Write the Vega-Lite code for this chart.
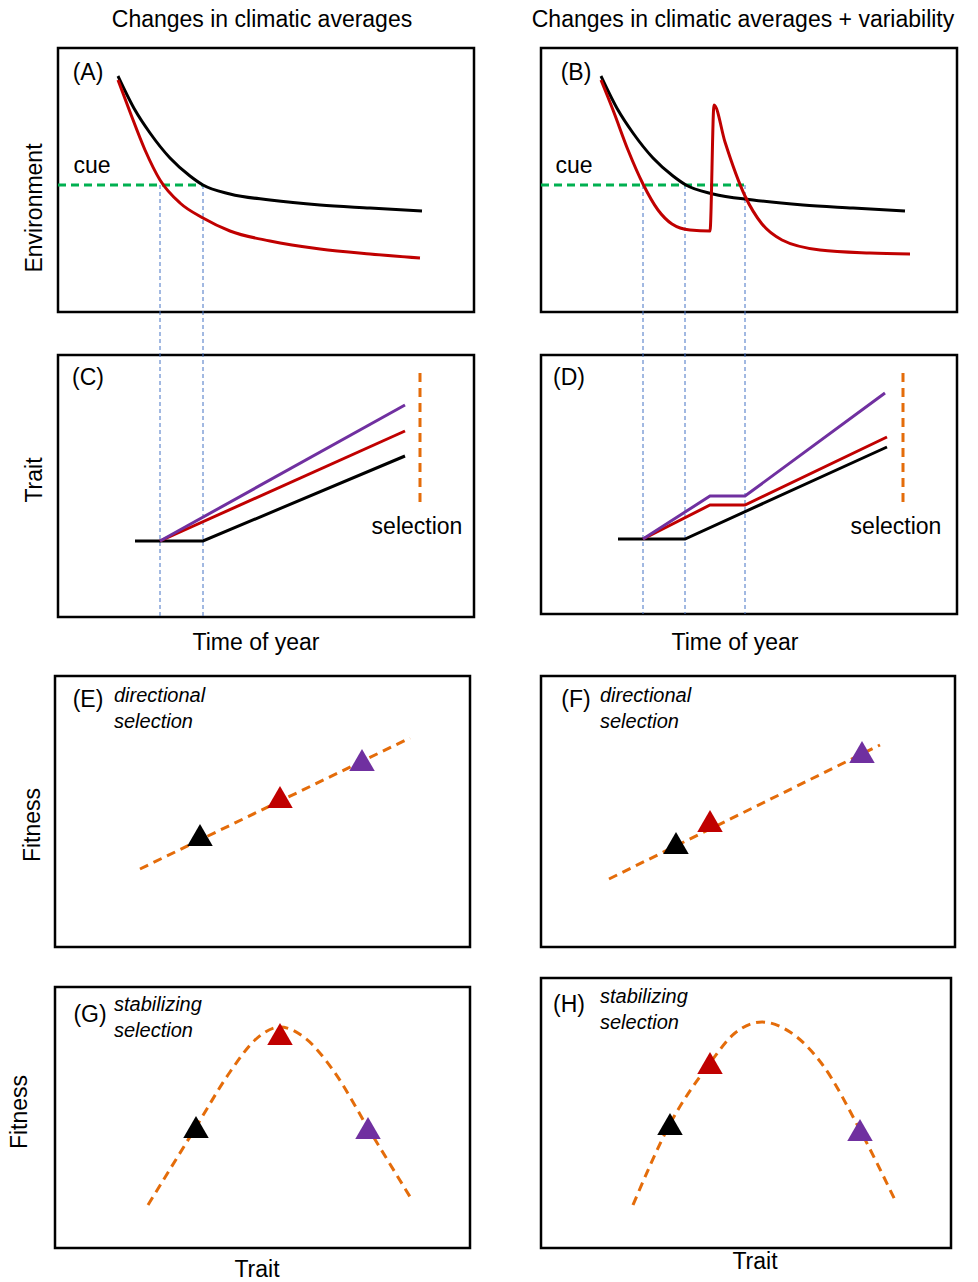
{
  "$schema": "https://vega.github.io/schema/vega-lite/v6.json",
  "width": 978,
  "height": 1282,
  "autosize": {"type": "fit", "contains": "padding"},
  "padding": 0,
  "background": "white",
  "config": {"view": {"stroke": null}, "font": "Liberation Sans"},
  "datasets": {
    "boxes": [
      {"p": "A", "x": 58, "x2": 474, "y": 48, "y2": 312},
      {"p": "B", "x": 541, "x2": 957, "y": 48, "y2": 312},
      {"p": "C", "x": 58, "x2": 474, "y": 355, "y2": 617},
      {"p": "D", "x": 541, "x2": 957, "y": 355, "y2": 614},
      {"p": "E", "x": 55, "x2": 470, "y": 676, "y2": 947},
      {"p": "F", "x": 541, "x2": 955, "y": 676, "y2": 947},
      {"p": "G", "x": 55, "x2": 470, "y": 987, "y2": 1248},
      {"p": "H", "x": 541, "x2": 951, "y": 978, "y2": 1248}
    ],
    "lines": [
      {"s": "A-env", "c": "black", "i": 0, "x": 118, "y": 76},
      {"s": "A-env", "c": "black", "i": 1, "x": 135, "y": 110},
      {"s": "A-env", "c": "black", "i": 2, "x": 150, "y": 133},
      {"s": "A-env", "c": "black", "i": 3, "x": 170, "y": 158},
      {"s": "A-env", "c": "black", "i": 4, "x": 190, "y": 176},
      {"s": "A-env", "c": "black", "i": 5, "x": 203, "y": 185},
      {"s": "A-env", "c": "black", "i": 6, "x": 230, "y": 194},
      {"s": "A-env", "c": "black", "i": 7, "x": 270, "y": 200},
      {"s": "A-env", "c": "black", "i": 8, "x": 320, "y": 205},
      {"s": "A-env", "c": "black", "i": 9, "x": 370, "y": 208},
      {"s": "A-env", "c": "black", "i": 10, "x": 422, "y": 211},
      {"s": "A-red", "c": "red", "i": 0, "x": 118, "y": 80},
      {"s": "A-red", "c": "red", "i": 1, "x": 130, "y": 112},
      {"s": "A-red", "c": "red", "i": 2, "x": 145, "y": 150},
      {"s": "A-red", "c": "red", "i": 3, "x": 160, "y": 180},
      {"s": "A-red", "c": "red", "i": 4, "x": 180, "y": 203},
      {"s": "A-red", "c": "red", "i": 5, "x": 203, "y": 218},
      {"s": "A-red", "c": "red", "i": 6, "x": 230, "y": 231},
      {"s": "A-red", "c": "red", "i": 7, "x": 270, "y": 241},
      {"s": "A-red", "c": "red", "i": 8, "x": 320, "y": 249},
      {"s": "A-red", "c": "red", "i": 9, "x": 370, "y": 254},
      {"s": "A-red", "c": "red", "i": 10, "x": 420, "y": 258},
      {"s": "B-env", "c": "black", "i": 0, "x": 601, "y": 76},
      {"s": "B-env", "c": "black", "i": 1, "x": 618, "y": 110},
      {"s": "B-env", "c": "black", "i": 2, "x": 633, "y": 133},
      {"s": "B-env", "c": "black", "i": 3, "x": 653, "y": 158},
      {"s": "B-env", "c": "black", "i": 4, "x": 673, "y": 176},
      {"s": "B-env", "c": "black", "i": 5, "x": 686, "y": 185},
      {"s": "B-env", "c": "black", "i": 6, "x": 713, "y": 194},
      {"s": "B-env", "c": "black", "i": 7, "x": 753, "y": 200},
      {"s": "B-env", "c": "black", "i": 8, "x": 803, "y": 205},
      {"s": "B-env", "c": "black", "i": 9, "x": 853, "y": 208},
      {"s": "B-env", "c": "black", "i": 10, "x": 905, "y": 211},
      {"s": "B-red", "c": "red", "i": 0, "x": 601, "y": 80},
      {"s": "B-red", "c": "red", "i": 1, "x": 613, "y": 110},
      {"s": "B-red", "c": "red", "i": 2, "x": 628, "y": 150},
      {"s": "B-red", "c": "red", "i": 3, "x": 643, "y": 184},
      {"s": "B-red", "c": "red", "i": 4, "x": 658, "y": 210},
      {"s": "B-red", "c": "red", "i": 5, "x": 672, "y": 224},
      {"s": "B-red", "c": "red", "i": 6, "x": 690, "y": 230},
      {"s": "B-red", "c": "red", "i": 7, "x": 710, "y": 231},
      {"s": "B-red", "c": "red", "i": 8, "x": 714, "y": 105},
      {"s": "B-red", "c": "red", "i": 9, "x": 725, "y": 142},
      {"s": "B-red", "c": "red", "i": 10, "x": 745, "y": 196},
      {"s": "B-red", "c": "red", "i": 11, "x": 762, "y": 224},
      {"s": "B-red", "c": "red", "i": 12, "x": 782, "y": 240},
      {"s": "B-red", "c": "red", "i": 13, "x": 820, "y": 250},
      {"s": "B-red", "c": "red", "i": 14, "x": 870, "y": 253},
      {"s": "B-red", "c": "red", "i": 15, "x": 910, "y": 254},
      {"s": "C-black", "c": "black", "i": 0, "x": 135, "y": 541},
      {"s": "C-black", "c": "black", "i": 1, "x": 203, "y": 541},
      {"s": "C-black", "c": "black", "i": 2, "x": 405, "y": 456},
      {"s": "C-red", "c": "red", "i": 0, "x": 160, "y": 541},
      {"s": "C-red", "c": "red", "i": 1, "x": 405, "y": 431},
      {"s": "C-purple", "c": "purple", "i": 0, "x": 160, "y": 541},
      {"s": "C-purple", "c": "purple", "i": 1, "x": 405, "y": 405},
      {"s": "D-black", "c": "black", "i": 0, "x": 618, "y": 539},
      {"s": "D-black", "c": "black", "i": 1, "x": 685, "y": 539},
      {"s": "D-black", "c": "black", "i": 2, "x": 887, "y": 447},
      {"s": "D-red", "c": "red", "i": 0, "x": 643, "y": 539},
      {"s": "D-red", "c": "red", "i": 1, "x": 710, "y": 505},
      {"s": "D-red", "c": "red", "i": 2, "x": 745, "y": 505},
      {"s": "D-red", "c": "red", "i": 3, "x": 887, "y": 437},
      {"s": "D-purple", "c": "purple", "i": 0, "x": 643, "y": 539},
      {"s": "D-purple", "c": "purple", "i": 1, "x": 710, "y": 496},
      {"s": "D-purple", "c": "purple", "i": 2, "x": 745, "y": 496},
      {"s": "D-purple", "c": "purple", "i": 3, "x": 885, "y": 393}
    ],
    "cue": [
      {"s": "A", "i": 0, "x": 58, "y": 185},
      {"s": "A", "i": 1, "x": 203, "y": 185},
      {"s": "B", "i": 0, "x": 541, "y": 185},
      {"s": "B", "i": 1, "x": 745, "y": 185}
    ],
    "guides": [
      {"s": "1", "i": 0, "x": 160, "y": 185},
      {"s": "1", "i": 1, "x": 160, "y": 617},
      {"s": "2", "i": 0, "x": 203, "y": 185},
      {"s": "2", "i": 1, "x": 203, "y": 617},
      {"s": "3", "i": 0, "x": 643, "y": 185},
      {"s": "3", "i": 1, "x": 643, "y": 614},
      {"s": "4", "i": 0, "x": 685, "y": 185},
      {"s": "4", "i": 1, "x": 685, "y": 614},
      {"s": "5", "i": 0, "x": 745, "y": 185},
      {"s": "5", "i": 1, "x": 745, "y": 614}
    ],
    "selection": [
      {"s": "C", "i": 0, "x": 420, "y": 373},
      {"s": "C", "i": 1, "x": 420, "y": 505},
      {"s": "D", "i": 0, "x": 903, "y": 373},
      {"s": "D", "i": 1, "x": 903, "y": 508},
      {"s": "E", "i": 0, "x": 140, "y": 869},
      {"s": "E", "i": 1, "x": 410, "y": 738},
      {"s": "F", "i": 0, "x": 609, "y": 879},
      {"s": "F", "i": 1, "x": 880, "y": 745},
      {"s": "G", "i": 0, "x": 148, "y": 1205},
      {"s": "G", "i": 1, "x": 196, "y": 1127},
      {"s": "G", "i": 2, "x": 230, "y": 1072},
      {"s": "G", "i": 3, "x": 255, "y": 1040},
      {"s": "G", "i": 4, "x": 280, "y": 1027},
      {"s": "G", "i": 5, "x": 305, "y": 1038},
      {"s": "G", "i": 6, "x": 333, "y": 1070},
      {"s": "G", "i": 7, "x": 368, "y": 1128},
      {"s": "G", "i": 8, "x": 412, "y": 1200},
      {"s": "H", "i": 0, "x": 633, "y": 1205},
      {"s": "H", "i": 1, "x": 670, "y": 1124},
      {"s": "H", "i": 2, "x": 710, "y": 1063},
      {"s": "H", "i": 3, "x": 735, "y": 1033},
      {"s": "H", "i": 4, "x": 762, "y": 1022},
      {"s": "H", "i": 5, "x": 790, "y": 1032},
      {"s": "H", "i": 6, "x": 822, "y": 1064},
      {"s": "H", "i": 7, "x": 860, "y": 1130},
      {"s": "H", "i": 8, "x": 895, "y": 1200}
    ],
    "triangles": [
      {"c": "black", "x": 200, "y": 835},
      {"c": "red", "x": 280, "y": 797},
      {"c": "purple", "x": 362, "y": 760},
      {"c": "black", "x": 676, "y": 843},
      {"c": "red", "x": 710, "y": 821},
      {"c": "purple", "x": 862, "y": 752},
      {"c": "black", "x": 196, "y": 1127},
      {"c": "red", "x": 280, "y": 1034},
      {"c": "purple", "x": 368, "y": 1128},
      {"c": "black", "x": 670, "y": 1124},
      {"c": "red", "x": 710, "y": 1063},
      {"c": "purple", "x": 860, "y": 1130}
    ],
    "labels": [
      {"t": "Changes in climatic averages", "x": 262, "y": 20},
      {"t": "Changes in climatic averages + variability", "x": 743, "y": 20},
      {"t": "(A)", "x": 88, "y": 73},
      {"t": "(B)", "x": 576, "y": 73},
      {"t": "(C)", "x": 88, "y": 378},
      {"t": "(D)", "x": 569, "y": 378},
      {"t": "(E)", "x": 88, "y": 700},
      {"t": "(F)", "x": 576, "y": 700},
      {"t": "(G)", "x": 90, "y": 1015},
      {"t": "(H)", "x": 569, "y": 1005},
      {"t": "cue", "x": 92, "y": 166},
      {"t": "cue", "x": 574, "y": 166},
      {"t": "selection", "x": 417, "y": 527},
      {"t": "selection", "x": 896, "y": 527},
      {"t": "Time of year", "x": 256, "y": 643},
      {"t": "Time of year", "x": 735, "y": 643},
      {"t": "Trait", "x": 257, "y": 1270},
      {"t": "Trait", "x": 755, "y": 1262}
    ],
    "notes": [
      {"t": "directional", "x": 114, "y": 696},
      {"t": "selection", "x": 114, "y": 722},
      {"t": "directional", "x": 600, "y": 696},
      {"t": "selection", "x": 600, "y": 722},
      {"t": "stabilizing", "x": 114, "y": 1005},
      {"t": "selection", "x": 114, "y": 1031},
      {"t": "stabilizing", "x": 600, "y": 997},
      {"t": "selection", "x": 600, "y": 1023}
    ],
    "ylabels": [
      {"t": "Environment", "x": 35, "y": 208},
      {"t": "Trait", "x": 35, "y": 480},
      {"t": "Fitness", "x": 33, "y": 825},
      {"t": "Fitness", "x": 20, "y": 1112}
    ]
  },
  "encoding": {
    "x": {"field": "x", "type": "quantitative", "scale": {"domain": [0, 978], "nice": false, "zero": false}, "axis": null},
    "y": {"field": "y", "type": "quantitative", "scale": {"domain": [0, 1282], "nice": false, "zero": false, "reverse": true}, "axis": null}
  },
  "layer": [
    {
      "data": {"name": "boxes"},
      "mark": {"type": "rect", "fill": null, "stroke": "black", "strokeWidth": 2.5},
      "encoding": {"x2": {"field": "x2"}, "y2": {"field": "y2"}}
    },
    {
      "data": {"name": "guides"},
      "mark": {"type": "line", "color": "#4472c4", "strokeWidth": 1, "strokeDash": [4, 3]},
      "encoding": {"detail": {"field": "s"}, "order": {"field": "i"}}
    },
    {
      "data": {"name": "cue"},
      "mark": {"type": "line", "color": "#00b050", "strokeWidth": 3, "strokeDash": [8, 5]},
      "encoding": {"detail": {"field": "s"}, "order": {"field": "i"}}
    },
    {
      "data": {"name": "selection"},
      "mark": {"type": "line", "color": "#e46c0a", "strokeWidth": 3, "strokeDash": [9, 6], "interpolate": "monotone"},
      "encoding": {"detail": {"field": "s"}, "order": {"field": "i"}}
    },
    {
      "data": {"name": "lines"},
      "transform": [{"filter": "datum.s[0] == 'A' || datum.s[0] == 'B'"}],
      "mark": {"type": "line", "strokeWidth": 3, "interpolate": "monotone"},
      "encoding": {
        "detail": {"field": "s"},
        "order": {"field": "i"},
        "color": {"field": "c", "type": "nominal", "legend": null, "scale": {"domain": ["black", "red", "purple"], "range": ["#000000", "#c00000", "#7030a0"]}}
      }
    },
    {
      "data": {"name": "lines"},
      "transform": [{"filter": "datum.s[0] == 'C' || datum.s[0] == 'D'"}],
      "mark": {"type": "line", "strokeWidth": 3},
      "encoding": {
        "detail": {"field": "s"},
        "order": {"field": "i"},
        "color": {"field": "c", "type": "nominal", "legend": null, "scale": {"domain": ["black", "red", "purple"], "range": ["#000000", "#c00000", "#7030a0"]}}
      }
    },
    {
      "data": {"name": "triangles"},
      "mark": {"type": "point", "shape": "triangle-up", "filled": true, "size": 650, "opacity": 1},
      "encoding": {
        "color": {"field": "c", "type": "nominal", "legend": null, "scale": {"domain": ["black", "red", "purple"], "range": ["#000000", "#c00000", "#7030a0"]}}
      }
    },
    {
      "data": {"name": "labels"},
      "mark": {"type": "text", "fontSize": 23, "align": "center", "baseline": "middle", "color": "black"},
      "encoding": {"text": {"field": "t"}}
    },
    {
      "data": {"name": "notes"},
      "mark": {"type": "text", "fontSize": 20, "fontStyle": "italic", "align": "left", "baseline": "middle", "color": "black"},
      "encoding": {"text": {"field": "t"}}
    },
    {
      "data": {"name": "ylabels"},
      "mark": {"type": "text", "fontSize": 23, "angle": 270, "align": "center", "baseline": "middle", "color": "black"},
      "encoding": {"text": {"field": "t"}}
    }
  ]
}
